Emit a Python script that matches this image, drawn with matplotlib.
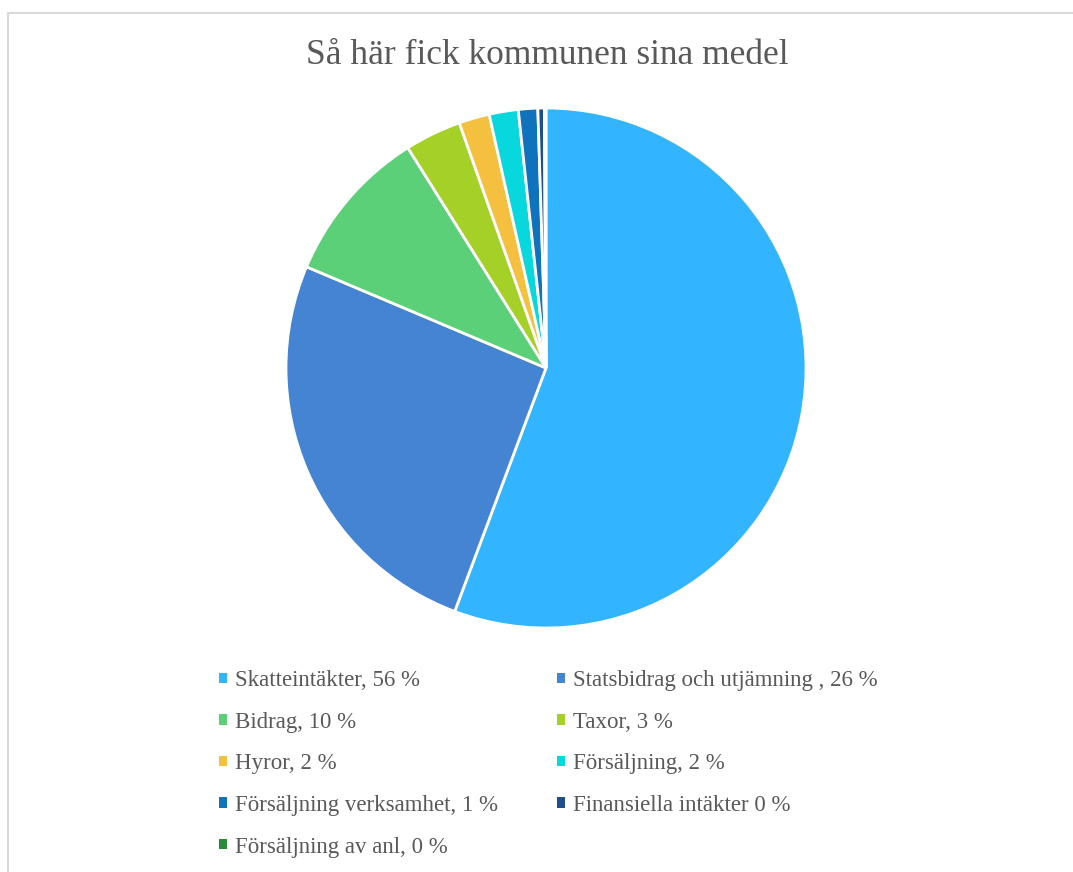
import matplotlib.pyplot as plt
from matplotlib.patches import Patch, Rectangle

labels = ['Skatteintäkter, 56 %', 'Statsbidrag och utjämning , 26 %', 'Bidrag, 10 %',
          'Taxor, 3 %', 'Hyror, 2 %', 'Försäljning, 2 %',
          'Försäljning verksamhet, 1 %', 'Finansiella intäkter 0 %',
          'Försäljning av anl, 0 %']
values = [55.6, 25.6, 9.7, 3.5, 1.9, 1.8, 1.2, 0.4, 0.1]
colors = ['#33B4FE', '#4584D3', '#5BD078', '#A5D028', '#F5C040',
          '#08D8DE', '#0F72BC', '#1F4E8C', '#2A8A3C']

plt.rcParams['font.family'] = ['Liberation Serif', 'DejaVu Serif']
fig = plt.figure(figsize=(10.73, 8.72), dpi=100)

# light frame around the chart area
fig.patches.append(Rectangle((8 / 1073, -0.1), 1.2, (872 - 13) / 872 + 0.1,
                             transform=fig.transFigure, fill=False,
                             edgecolor='#D9D9D9', linewidth=1.5))

W, H = 1073, 872
cx, cy, r = 546, 368, 260
ax = fig.add_axes([(cx - r) / W, (H - cy - r) / H, 2 * r / W, 2 * r / H])
wedges, _ = ax.pie(values, colors=colors, startangle=90, counterclock=False,
                   radius=1, wedgeprops=dict(edgecolor='white', linewidth=2))
ax.set_xlim(-1, 1)
ax.set_ylim(-1, 1)
ax.set_aspect('equal')
ax.axis('off')

fig.text(547 / W, 1 - 55 / H, 'Så här fick kommunen sina medel', ha='center', va='center',
         fontsize=25.5, color='#595959')

# row-major order in two columns
order = [0, 2, 4, 6, 8, 1, 3, 5, 7]
handles = [Patch(facecolor=colors[i], edgecolor='none') for i in order]
leg = fig.legend(handles, [labels[i] for i in order], ncol=2,
                 loc='upper left', bbox_to_anchor=(219 / W, 1 - 670 / H),
                 frameon=False, fontsize=16.5, labelcolor='#595959',
                 handlelength=0.36, handleheight=0.32, handletextpad=0.35,
                 labelspacing=0.9, columnspacing=2.55, borderpad=0, borderaxespad=0)

fig.savefig('out.png', dpi=100)
